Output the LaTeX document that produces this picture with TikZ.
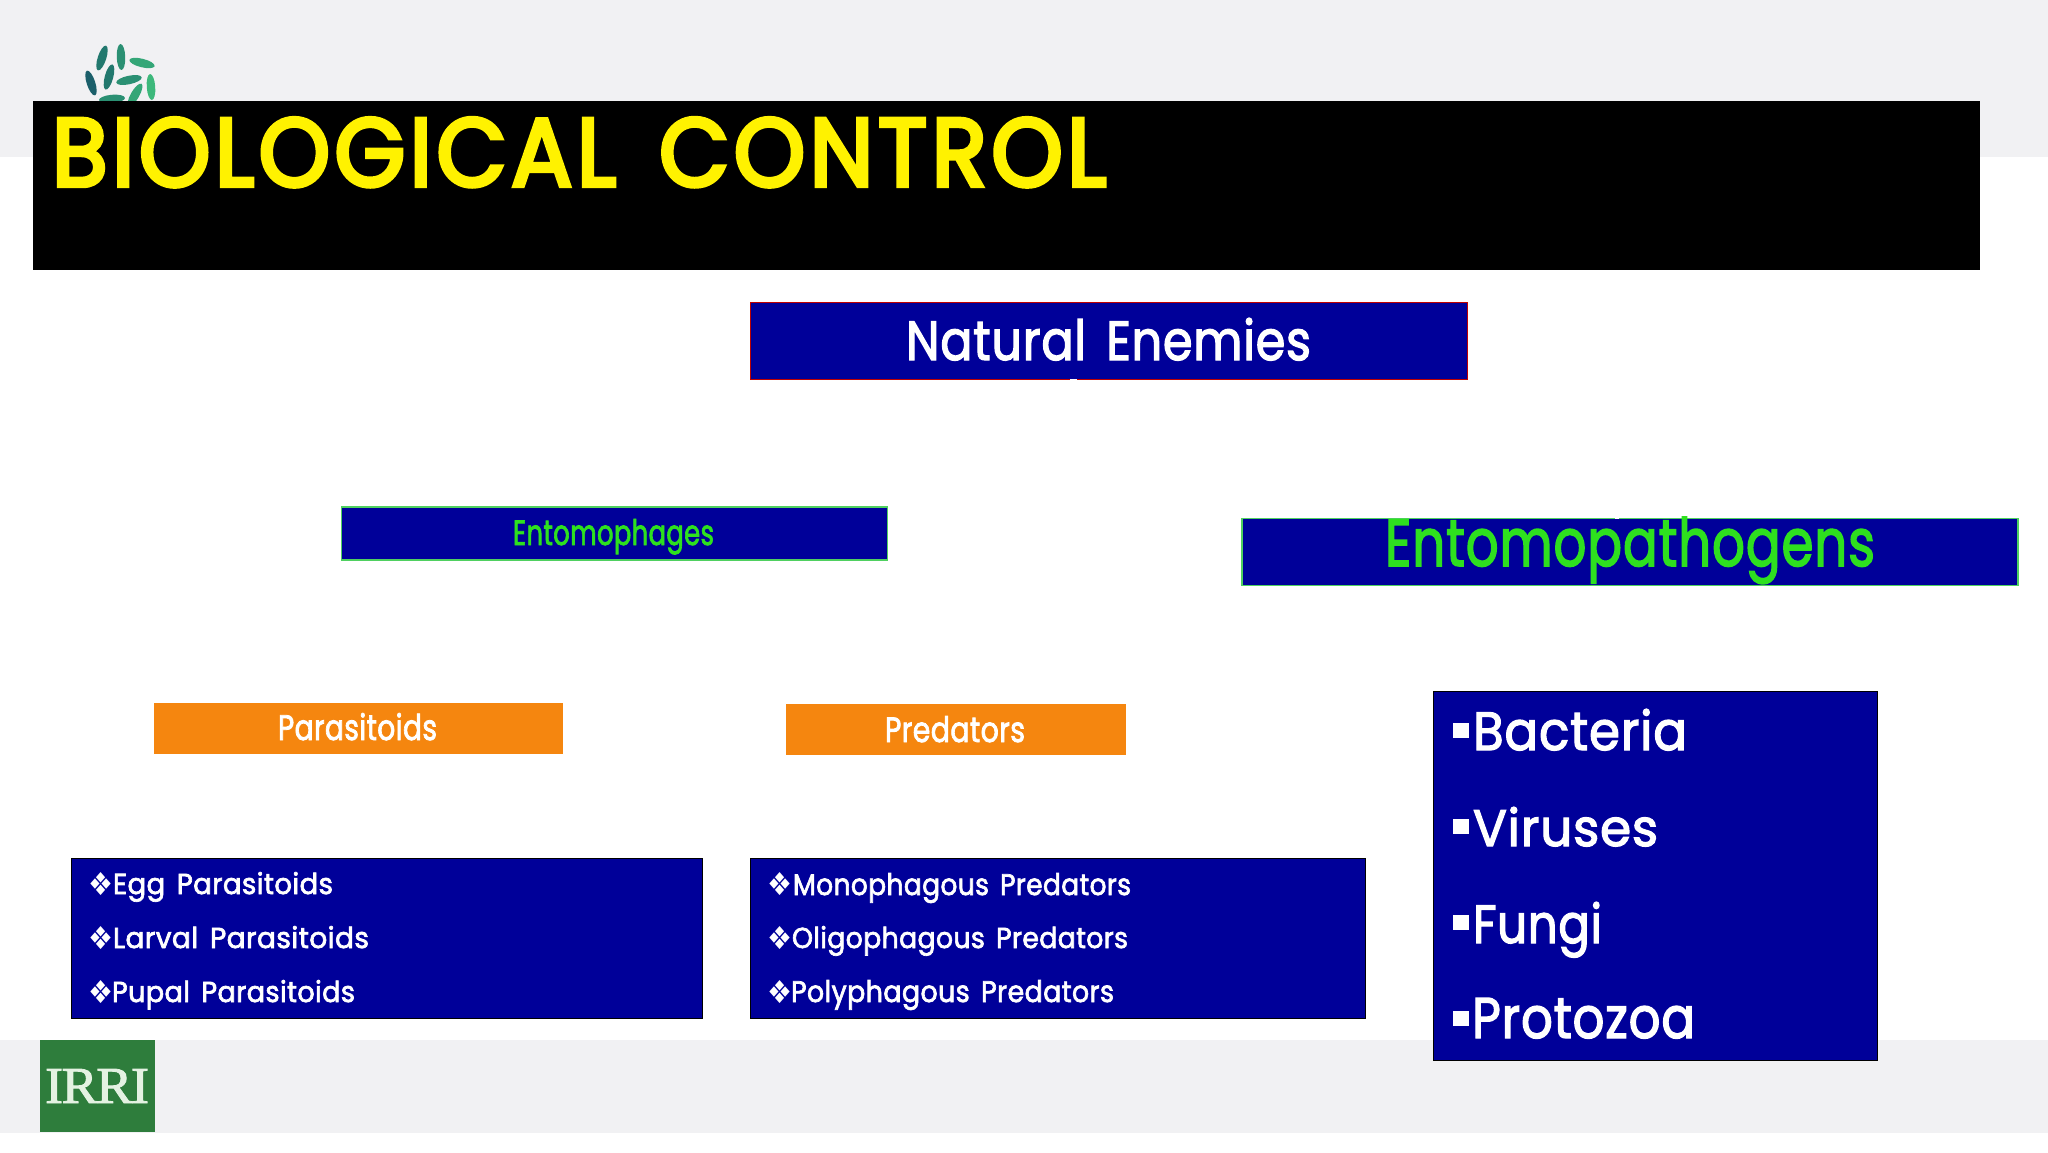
\documentclass[tikz,border=0pt]{standalone}
\usepackage{fontspec}
\usepackage{graphicx}
\setmainfont{Poppins}
\newfontfamily\symfont{DejaVu Sans}
\newfontfamily\logofont[FakeBold=1.6,LetterSpace=-3]{Liberation Serif}
\newfontfamily\medfont[FakeBold=2.4,LetterSpace=1.5,WordSpace=1.5]{Poppins}
\newfontfamily\heavyfont[FakeBold=4.5,LetterSpace=5,WordSpace=1.5]{Poppins}
\definecolor{navy}{HTML}{000099}
\definecolor{orng}{HTML}{F5860F}
\definecolor{grn}{HTML}{2EE01F}
\definecolor{band}{HTML}{F1F1F3}
\definecolor{irri}{HTML}{2E7D3C}
\definecolor{irritxt}{HTML}{E4F2E2}
\definecolor{edgegreen}{HTML}{4FD060}
\definecolor{leafa}{HTML}{1B5F6A}
\definecolor{leafb}{HTML}{22786E}
\definecolor{leafc}{HTML}{2B9073}
\definecolor{leafd}{HTML}{34A677}
\definecolor{leafe}{HTML}{3DB87B}
\tikzset{
  box/.style={anchor=north west,inner sep=0pt,outer sep=0pt,fill=navy,draw=black,line width=1.1pt},
  flatbox/.style={anchor=north west,inner sep=0pt,outer sep=0pt,fill=orng},
  lbl/.style={anchor=base west,inner sep=0pt,outer sep=0pt,text=white},
  leaf/.style={ellipse,inner sep=0pt,outer sep=0pt,minimum width=#1,minimum height=8.5pt},
  dotsq/.style={anchor=north west,inner sep=0pt,outer sep=0pt,fill=white,minimum width=16pt,minimum height=15pt},
}
\usetikzlibrary{shapes.geometric}
\newcommand{\fitted}[3]{\resizebox{#1pt}{#2pt}{#3}}
\begin{document}
\begin{tikzpicture}[x=1pt,y=-1pt]
\useasboundingbox (0,0) rectangle (2048,1152);
\fill[white] (0,0) rectangle (2048,1152);
\fill[band] (0,0) rectangle (2048,157);
\fill[band] (0,1040) rectangle (2048,1133);
% logo leaves
\node[leaf=26pt,fill=leafb,rotate=72] (l1) at (102,58) {};
\node[leaf=26pt,fill=leafc,rotate=92] (l2) at (121,57) {};
\node[leaf=26pt,fill=leafd,rotate=-14] (l3) at (142,63) {};
\node[leaf=26pt,fill=leafa,rotate=-72] (l4) at (91,83) {};
\node[leaf=26pt,fill=leafb,rotate=75] (l5) at (109,77) {};
\node[leaf=26pt,fill=leafc,rotate=12] (l6) at (129,80) {};
\node[leaf=26pt,fill=leafe,rotate=-86] (l7) at (151,87) {};
\node[leaf=26pt,fill=leafd,rotate=60] (l8) at (135,95) {};
\node[leaf=26pt,fill=leafc,rotate=5] (l9) at (112,99) {};
% title bar
\node[anchor=north west,inner sep=0pt,outer sep=0pt,fill=black,minimum width=1947pt,minimum height=169pt] (bar) at (33,101) {};
\node[lbl,text=yellow] (title) at (52,186) {\heavyfont\fitted{1054}{68}{BIOLOGICAL CONTROL}};
% boxes
\node[box,draw=red!75!black,minimum width=717pt,minimum height=77pt] (ne) at (750.5,302.5) {};
\node[lbl] (netxt) at (906,360) {\medfont\fitted{405}{42}{Natural Enemies}};
\fill[white] (1070,379) rectangle (1077,382);
\node[box,draw=edgegreen,minimum width=546pt,minimum height=53pt] (em) at (341.5,507) {};
\node[lbl,text=grn] (emtxt) at (513,545) {\medfont\fitted{201}{26}{Entomophages}};
\node[box,draw=edgegreen,minimum width=776pt,minimum height=67pt] (ep) at (1242,518.5) {};
\fill[white] (1615,515) rectangle (1619,519);
\node[lbl,text=grn] (eptxt) at (1385,566) {\medfont\fitted{490}{49}{Entomopathogens}};
\node[flatbox,minimum width=409pt,minimum height=51pt] (pa) at (154,703) {};
\node[lbl] (patxt) at (278,740) {\medfont\fitted{159}{27}{Parasitoids}};
\node[flatbox,minimum width=340pt,minimum height=51pt] (pr) at (786,704) {};
\node[lbl] (prtxt) at (885,742) {\medfont\fitted{140}{26}{Predators}};
% parasitoid list
\node[box,minimum width=631pt,minimum height=160pt] (plist) at (71.5,858.5) {};
\node[lbl] (b1) at (88,895) {\symfont\fitted{25}{23}{❖}};
\node[lbl] (p1) at (113,894) {\medfont\fitted{220}{22}{Egg Parasitoids}};
\node[lbl] (b2) at (88,949) {\symfont\fitted{25}{23}{❖}};
\node[lbl] (p2) at (113,948) {\medfont\fitted{256}{22}{Larval Parasitoids}};
\node[lbl] (b3) at (88,1003) {\symfont\fitted{25}{23}{❖}};
\node[lbl] (p3) at (112,1002) {\medfont\fitted{243}{22}{Pupal Parasitoids}};
% predator list
\node[box,minimum width=615pt,minimum height=160pt] (mlist) at (750.5,858.5) {};
\node[lbl] (c1) at (767,895) {\symfont\fitted{25}{23}{❖}};
\node[lbl] (m1) at (793,895) {\medfont\fitted{338}{22}{Monophagous Predators}};
\node[lbl] (c2) at (767,949) {\symfont\fitted{25}{23}{❖}};
\node[lbl] (m2) at (792,948) {\medfont\fitted{336}{22}{Oligophagous Predators}};
\node[lbl] (c3) at (767,1003) {\symfont\fitted{25}{23}{❖}};
\node[lbl] (m3) at (791,1002) {\medfont\fitted{323}{22}{Polyphagous Predators}};
% pathogen list
\node[box,minimum width=444pt,minimum height=369pt] (blist) at (1433.5,691.5) {};
\node[dotsq] (s1) at (1453,723) {};
\node[lbl] (t1) at (1473,750) {\medfont\fitted{214}{41}{Bacteria}};
\node[dotsq] (s2) at (1453,819) {};
\node[lbl] (t2) at (1473,846) {\medfont\fitted{185}{39}{Viruses}};
\node[dotsq] (s3) at (1453,915) {};
\node[lbl] (t3) at (1473,943) {\medfont\fitted{129}{41}{Fungi}};
\node[dotsq] (s4) at (1453,1011) {};
\node[lbl] (t4) at (1472,1038) {\medfont\fitted{223}{40}{Protozoa}};
% IRRI logo
\node[anchor=north west,inner sep=0pt,outer sep=0pt,fill=irri,minimum width=115pt,minimum height=92pt] (logo) at (40,1040) {};
\node[lbl,text=irritxt] (logotxt) at (45,1103) {\logofont\fitted{104}{34}{IRRI}};
\end{tikzpicture}
\end{document}
